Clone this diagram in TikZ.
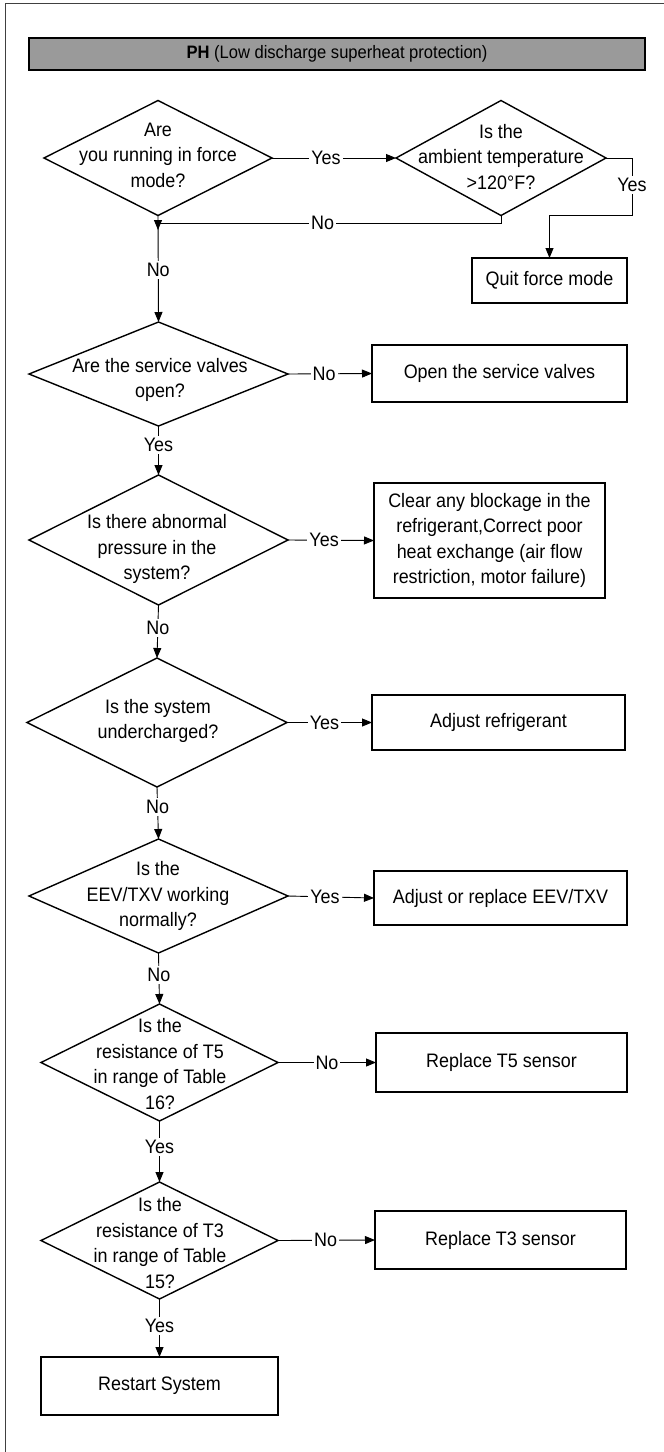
\documentclass[tikz,border=0pt]{standalone}
\usepackage{fontspec}
\setmainfont[FakeStretch=0.92]{Liberation Sans}
\usetikzlibrary{shapes.geometric,arrows.meta}
\definecolor{tbar}{HTML}{9A9A9A}
\newcommand{\myfs}{\fontsize{19.5}{25.5}\selectfont}
\newcommand{\mytfs}{\fontsize{18}{20}\selectfont}
\begin{document}
\begin{tikzpicture}[x=1pt,y=-1pt,
  dia/.style={draw, line width=1.4pt, shape=diamond, inner sep=0pt, outer sep=0pt},
  box/.style={draw, line width=1.4pt, rectangle, inner sep=0pt, outer sep=0pt, align=center, font=\myfs},
  txt/.style={align=center, inner sep=0pt, font=\myfs},
  lbl/.style={fill=white, inner sep=2pt, font=\myfs},
  arr/.style={line width=0.9pt, -{Triangle[length=10pt,width=8pt]}},
  titlebar/.style={draw, line width=1.4pt, fill=tbar, inner sep=0pt, font=\mytfs}]
\useasboundingbox (0,0) rectangle (664,1452);
\draw[line width=1pt, black!75] (664,3) -- (5,3) -- (5,1452);

\node[titlebar, minimum width=616pt, minimum height=32pt] (title) at (337,54) {\textbf{PH} (Low discharge superheat protection)};

% diamonds
\node[dia, minimum width=228pt, minimum height=115pt] (d1) at (158,158) {};
\node[txt] (t1) at (158,155) {Are\\you running in force\\mode?};
\node[dia, minimum width=210pt, minimum height=115pt] (d2) at (501,158) {};
\node[txt] (t2) at (501,157) {Is the\\ambient temperature\\>120°F?};
\node[dia, minimum width=259pt, minimum height=104pt] (d3) at (158.5,374) {};
\node[txt] (t3) at (160,380) {Are the service valves\\open?};
\node[dia, minimum width=259pt, minimum height=130pt] (d4) at (158.5,540) {};
\node[txt] (t4) at (157,549) {Is there abnormal\\pressure in the\\system?};
\node[dia, minimum width=260pt, minimum height=129pt] (d5) at (157,722.5) {};
\node[txt] (t5) at (158,721) {Is the system\\undercharged?};
\node[dia, minimum width=259pt, minimum height=114pt] (d6) at (158.5,896) {};
\node[txt] (t6) at (158,896) {Is the\\EEV/TXV working\\normally?};
\node[dia, minimum width=237pt, minimum height=117pt] (d7) at (159.5,1062.5) {};
\node[txt] (t7) at (160,1064) {Is the\\resistance of T5\\in range of Table\\16?};
\node[dia, minimum width=237pt, minimum height=117pt] (d8) at (159.5,1240.5) {};
\node[txt] (t8) at (160,1243) {Is the\\resistance of T3\\in range of Table\\15?};

% boxes
\node[box, minimum width=155pt, minimum height=45pt] (quit) at (549.5,280.5) {Quit force mode};
\node[box, minimum width=255pt, minimum height=57pt] (open) at (499.5,373.5) {Open the service valves};
\node[box, minimum width=231pt, minimum height=115pt] (clear) at (489.5,540.5) {Clear any blockage in the\\refrigerant,Correct poor\\heat exchange (air flow\\restriction, motor failure)};
\node[box, minimum width=253pt, minimum height=55pt] (adjref) at (498.5,722.5) {Adjust refrigerant};
\node[box, minimum width=253pt, minimum height=54pt] (adjeev) at (500.5,898) {Adjust or replace EEV/TXV};
\node[box, minimum width=251pt, minimum height=59pt] (rt5) at (501.5,1062.5) {Replace T5 sensor};
\node[box, minimum width=251pt, minimum height=58pt] (rt3) at (500.5,1240) {Replace T3 sensor};
\node[box, minimum width=237pt, minimum height=58pt] (restart) at (159.5,1386) {Restart System};

% connectors
\coordinate (j0) at (158,223);
\coordinate (j1) at (158,230);
\draw[arr] (d1.east) -- node[lbl,pos=0.435]{Yes} (d2.west);
\draw[arr] (d2.east) -- ++(26,0) -- node[lbl,pos=0.47]{Yes} ++(0,57) -| (quit.north);
\draw[arr] (d1.south) -- node[lbl,pos=0.514]{No} (d3.north);
\draw[arr] (d2.south) |- node[lbl,pos=0.76]{No} (j0) -- (j1);
\draw[arr] (d3.east) -- node[lbl,pos=0.43]{No} (open.west);
\draw[arr] (d3.south) -- node[lbl,pos=0.39]{Yes} (d4.north);
\draw[arr] (d4.east) -- node[lbl,pos=0.42]{Yes} (clear.west);
\draw[arr] (d4.south) -- node[lbl,pos=0.43]{No} (d5.north);
\draw[arr] (d5.east) -- node[lbl,pos=0.44]{Yes} (adjref.west);
\draw[arr] (d5.south) -- node[lbl,pos=0.385]{No} (d6.north);
\draw[arr] (d6.east) -- node[lbl,pos=0.43]{Yes} (adjeev.west);
\draw[arr] (d6.south) -- node[lbl,pos=0.43]{No} (d7.north);
\draw[arr] (d7.east) -- node[lbl,pos=0.5]{No} (rt5.west);
\draw[arr] (d7.south) -- node[lbl,pos=0.43]{Yes} (d8.north);
\draw[arr] (d8.east) -- node[lbl,pos=0.49]{No} (rt3.west);
\draw[arr] (d8.south) -- node[lbl,pos=0.47]{Yes} (restart.north);
\end{tikzpicture}
\end{document}
